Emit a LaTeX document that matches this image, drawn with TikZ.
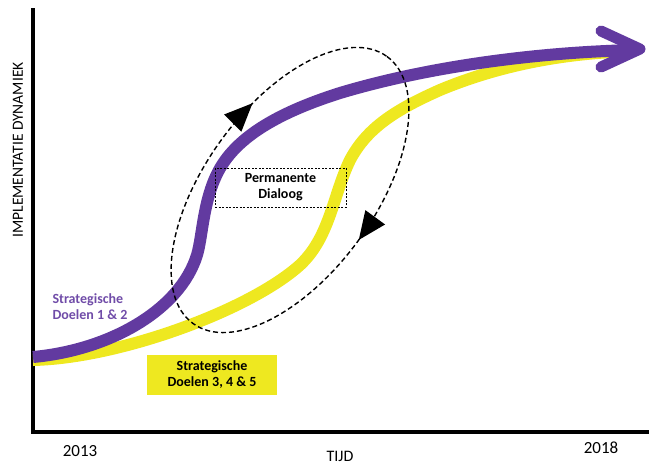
\documentclass[tikz,border=0pt]{standalone}
\usepackage{fontspec}
\setmainfont{Carlito}
\usetikzlibrary{arrows.meta,decorations.markings}
\definecolor{dpurple}{RGB}{98,58,160}
\definecolor{dyellow}{RGB}{238,232,32}
\definecolor{lpurple}{RGB}{112,76,168}
\tikzset{
  axisline/.style={line width=3.5pt, line join=miter},
  purplecurve/.style={dpurple, line width=12pt},
  yellowcurve/.style={dyellow, line width=12pt},
  cycleline/.style={line width=1.4pt, dash pattern=on 5pt off 3pt,
    postaction={decorate},
    decoration={markings,
      mark=at position 0.25 with {\arrow{Triangle[length=28pt,width=24pt]}},
      mark=at position 0.81 with {\arrow{Triangle[length=28pt,width=24pt]}}}},
  boldlabel/.style={font=\bfseries\fontsize{14}{16}\selectfont, align=center, inner sep=0pt},
  axislabel/.style={font=\fontsize{17}{20}\selectfont, inner sep=0pt},
}
\begin{document}
\begin{tikzpicture}[x=1pt,y=-1pt]
\useasboundingbox (0,0) rectangle (649,464);
% axes
\coordinate (ytop) at (33,8);
\coordinate (origin) at (33,432);
\coordinate (xend) at (649,432);
\draw[axisline] (ytop) -- (origin) -- (xend);
% yellow curve
\draw[yellowcurve] (33,360) .. controls (120,358) and (250,310) .. (300,265)
  .. controls (330,237) and (333,195) .. (350,160)
  .. controls (367,128) and (395,110) .. (440,90)
  .. controls (500,65) and (560,55) .. (612,52);
% purple curve
\draw[purplecurve] (33,357) .. controls (110,350) and (180,310) .. (197,255)
  .. controls (203,235) and (203,195) .. (222,165)
  .. controls (241,135) and (280,112) .. (340,93)
  .. controls (430,66) and (540,52) .. (636,50);
\draw[dpurple, line width=11pt, line cap=round, line join=round]
  (601,31) -- (640,49) -- (601,67);
% dialogue cycle
\draw[cycleline, rotate around={54:(290,190)}] (290,190) ellipse [x radius=165, y radius=85];
% labels
\node[boldlabel, draw, dash pattern=on 2pt off 1.5pt, line width=0.6pt, minimum width=131pt, minimum height=39pt]
  (pd) at (280.5,187.5) {Permanente\\Dialoog};
\node[boldlabel, fill=dyellow, minimum width=130pt, minimum height=40pt]
  (sd345) at (212,375) {Strategische\\Doelen 3, 4 \& 5};
\node[boldlabel, text=lpurple, align=left] (sd12) at (90,307) {Strategische\\Doelen 1 \& 2};
\node[axislabel] (y2013) at (80,451) {2013};
\node[axislabel] (y2018) at (601,448) {2018};
\node[axislabel, font=\fontsize{16}{19}\selectfont] (tijd) at (340,456) {TIJD};
\node[axislabel, font=\fontsize{15.5}{18}\selectfont, rotate=90] (ylab) at (18,150) {IMPLEMENTATIE DYNAMIEK};
\end{tikzpicture}
\end{document}
